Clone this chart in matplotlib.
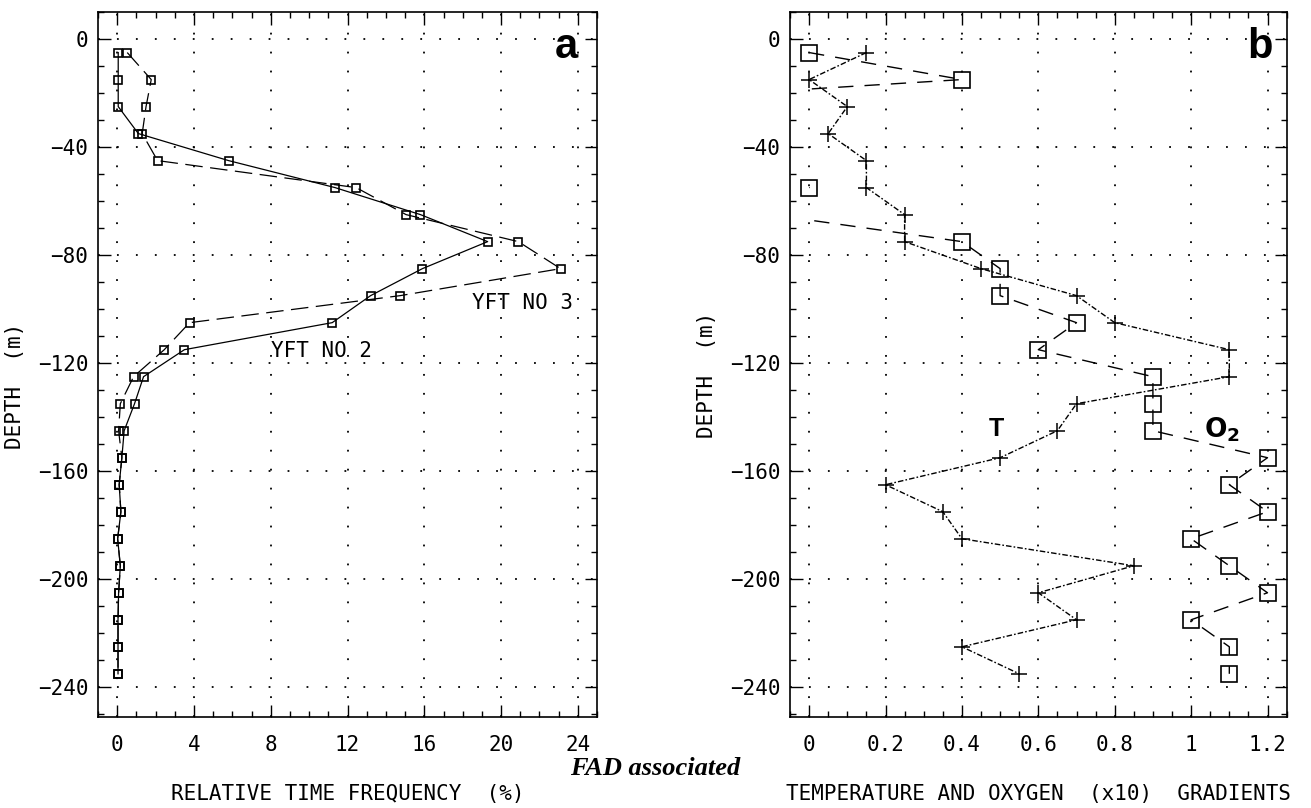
import numpy as np
import matplotlib
matplotlib.use("Agg")
import matplotlib.pyplot as plt
from matplotlib.patches import Rectangle
from matplotlib.ticker import MultipleLocator

# ---------------- data ----------------
depth = [-5, -15, -25, -35, -45, -55, -65, -75, -85, -95, -105, -115,
         -125, -135, -145, -155, -165, -175, -185, -195, -205, -215, -225, -235]

yft2 = [0.05, 0.05, 0.05, 1.1, 5.8, 11.35, 15.8, 19.3, 15.9, 13.2, 11.2, 3.5,
        1.37, 0.9, 0.36, 0.24, 0.1, 0.19, 0.02, 0.16, 0.07, 0.04, 0.04, 0.04]
yft3 = [0.52, 1.77, 1.5, 1.3, 2.1, 12.45, 15.05, 20.9, 23.1, 14.74, 3.77, 2.45,
        0.85, 0.16, 0.07, 0.24, 0.1, 0.19, 0.02, 0.16, 0.07, 0.04, 0.04, 0.04]

temp_grad = [0.15, 0.0, 0.1, 0.05, 0.15, 0.15, 0.25, 0.25, 0.45, 0.7, 0.8, 1.1,
             1.1, 0.7, 0.65, 0.5, 0.2, 0.35, 0.4, 0.85, 0.6, 0.7, 0.4, 0.55]
# negative values fall off the left edge of the plot (drawn clipped, no marker)
oxy_grad = [0.0, 0.4, -0.74, -0.5, -0.3, 0.0, -0.1, 0.4, 0.5, 0.5, 0.7, 0.6,
            0.9, 0.9, 0.9, 1.2, 1.1, 1.2, 1.0, 1.1, 1.2, 1.0, 1.1, 1.1]

xticks_a = [0, 4, 8, 12, 16, 20, 24]
xticks_b = [0, 0.2, 0.4, 0.6, 0.8, 1.0, 1.2]
xticklabels_b = ["0", "0.2", "0.4", "0.6", "0.8", "1", "1.2"]
yticks = [0, -40, -80, -120, -160, -200, -240]

MONO = "DejaVu Sans Mono"

fig = plt.figure(figsize=(13.11, 8.08), dpi=100)
axa = fig.add_axes([0.0748, 0.1126, 0.3806, 0.8725])
axb = fig.add_axes([0.6026, 0.1126, 0.3788, 0.8725])

def style(ax, xmaj, xmin):
    ax.xaxis.set_major_locator(MultipleLocator(xmaj))
    ax.xaxis.set_minor_locator(MultipleLocator(xmin))
    ax.yaxis.set_major_locator(MultipleLocator(40))
    ax.yaxis.set_minor_locator(MultipleLocator(10))
    ax.tick_params(which="both", direction="in", top=True, right=True,
                   width=1.0, color="black")
    ax.tick_params(which="major", length=9)
    ax.tick_params(which="minor", length=4)
    ax.tick_params(axis="x", which="major", pad=13, labelsize=15)
    ax.tick_params(axis="y", which="major", pad=7, labelsize=15)
    for s in ax.spines.values():
        s.set_linewidth(1.2)
    ax.grid(True, which="major", color="black", linestyle=(0, (1, 9.5)),
            linewidth=1.3)
    ax.set_ylim(-251, 10)

# ---------------- panel a ----------------
axa.plot(yft2, depth, color="black", lw=0.9, marker="s", ms=5.5,
         mfc="none", mec="black", mew=1.2)
axa.plot(yft3, depth, color="black", lw=0.9, linestyle=(0, (14, 6)),
         marker="s", ms=5.5, mfc="none", mec="black", mew=1.2)
axa.set_xlim(-1, 25)
style(axa, 4, 1)
axa.set_xticks(xticks_a)
axa.set_yticks(yticks)
axa.set_xticklabels([str(v) for v in xticks_a], family=MONO)
axa.set_yticklabels([str(v).replace("-", "\u2212") for v in yticks], family=MONO)
axa.set_ylabel("DEPTH  (m)", family=MONO, fontsize=15)
axa.yaxis.set_label_coords(-0.146, 0.47)
axa.set_xlabel("RELATIVE TIME FREQUENCY  (%)", family=MONO, fontsize=15,
               labelpad=21)
axa.text(8.0, -115.5, "YFT NO 2", family=MONO, fontsize=15, va="center",
         ha="left")
axa.text(18.5, -97.8, "YFT NO 3", family=MONO, fontsize=15, va="center",
         ha="left")
axa.text(23.4, -3, "a", family="Liberation Sans", fontweight="bold",
         fontsize=30, ha="center", va="center")

# ---------------- panel b ----------------
axb.set_xlim(-0.05, 1.25)
style(axb, 0.2, 0.05)
axb.plot(temp_grad, depth, color="black", lw=1.0,
         linestyle=(0, (4, 1.5, 1.2, 1.5)), marker="+", ms=12, mew=1.1)
oline, = axb.plot(oxy_grad, depth, color="black", lw=1.0,
                  linestyle=(0, (11, 8)))
clip = Rectangle((0, -400), 10, 800, transform=axb.transData)
oline.set_clip_path(clip)
ox = np.array(oxy_grad)
od = np.array(depth)
vis = ox >= 0
axb.plot(ox[vis], od[vis], linestyle="none", marker="s", ms=11,
         mfc="none", mec="black", mew=1.2)
axb.set_xticks(xticks_b)
axb.set_xticklabels(xticklabels_b, family=MONO)
axb.set_yticks(yticks)
axb.set_yticklabels([str(v).replace("-", "\u2212") for v in yticks], family=MONO)
axb.set_ylabel("DEPTH  (m)", family=MONO, fontsize=15)
axb.yaxis.set_label_coords(-0.147, 0.485)
axb.set_xlabel("TEMPERATURE AND OXYGEN  (x10)  GRADIENTS", family=MONO,
               fontsize=15, labelpad=21)
axb.text(1.18, -3, "b", family="Liberation Sans", fontweight="bold",
         fontsize=30, ha="center", va="center")
axb.text(0.49, -144.5, "T", family="Liberation Sans", fontweight="bold",
         fontsize=18, ha="center", va="center")
axb.text(1.035, -144.5, r"$\mathbf{O_{2}}$", fontsize=19, ha="left",
         va="center")

fig.text(0.5, 0.049, "FAD associated", family="Liberation Serif",
         fontweight="bold", fontstyle="italic", fontsize=19, ha="center",
         va="center")

fig.savefig("out.png", dpi=100)
